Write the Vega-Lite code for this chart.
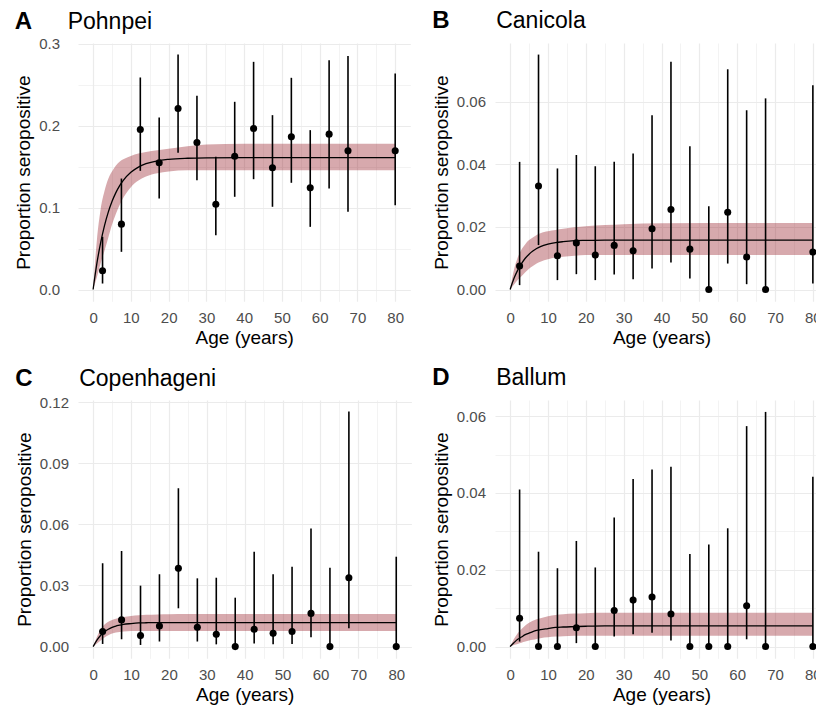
{
  "$schema": "https://vega.github.io/schema/vega-lite/v6.json",
  "background": "white",
  "padding": {"left": 14, "top": 9, "right": 0, "bottom": 0},
  "datasets": {
    "obs": [
      {"s":"A","a":2.5,"p":0.0228,"lo":0.0073,"hi":0.0643},
      {"s":"A","a":7.5,"p":0.0798,"lo":0.046,"hi":0.1355},
      {"s":"A","a":12.5,"p":0.1954,"lo":0.1449,"hi":0.2589},
      {"s":"A","a":17.5,"p":0.1547,"lo":0.1111,"hi":0.21},
      {"s":"A","a":22.5,"p":0.221,"lo":0.1669,"hi":0.287},
      {"s":"A","a":27.5,"p":0.1795,"lo":0.1335,"hi":0.2365},
      {"s":"A","a":32.5,"p":0.1042,"lo":0.0663,"hi":0.162},
      {"s":"A","a":37.5,"p":0.1628,"lo":0.1132,"hi":0.2292},
      {"s":"A","a":42.5,"p":0.1966,"lo":0.1347,"hi":0.278},
      {"s":"A","a":47.5,"p":0.1486,"lo":0.101,"hi":0.2129},
      {"s":"A","a":52.5,"p":0.1864,"lo":0.1303,"hi":0.2585},
      {"s":"A","a":57.5,"p":0.1241,"lo":0.0765,"hi":0.1946},
      {"s":"A","a":62.5,"p":0.1897,"lo":0.1233,"hi":0.28},
      {"s":"A","a":67.5,"p":0.1693,"lo":0.0948,"hi":0.285},
      {"s":"A","a":80,"p":0.1693,"lo":0.103,"hi":0.2638},
      {"s":"B","a":2.5,"p":0.0075,"lo":0.0014,"hi":0.0408},
      {"s":"B","a":7.5,"p":0.0331,"lo":0.0142,"hi":0.0751},
      {"s":"B","a":12.5,"p":0.0108,"lo":0.003,"hi":0.0387},
      {"s":"B","a":17.5,"p":0.0149,"lo":0.0049,"hi":0.043},
      {"s":"B","a":22.5,"p":0.011,"lo":0.003,"hi":0.0394},
      {"s":"B","a":27.5,"p":0.0141,"lo":0.0048,"hi":0.0408},
      {"s":"B","a":32.5,"p":0.0124,"lo":0.0033,"hi":0.0435},
      {"s":"B","a":37.5,"p":0.0194,"lo":0.0067,"hi":0.0557},
      {"s":"B","a":42.5,"p":0.0256,"lo":0.0086,"hi":0.0728},
      {"s":"B","a":47.5,"p":0.0129,"lo":0.0035,"hi":0.0458},
      {"s":"B","a":52.5,"p":0,"lo":0,"hi":0.0266},
      {"s":"B","a":57.5,"p":0.0247,"lo":0.0083,"hi":0.0704},
      {"s":"B","a":62.5,"p":0.0104,"lo":0.0017,"hi":0.0573},
      {"s":"B","a":67.5,"p":0,"lo":0,"hi":0.0611},
      {"s":"B","a":80,"p":0.012,"lo":0.0019,"hi":0.0653},
      {"s":"C","a":2.5,"p":0.0074,"lo":0.0013,"hi":0.0409},
      {"s":"C","a":7.5,"p":0.0131,"lo":0.0036,"hi":0.0469},
      {"s":"C","a":12.5,"p":0.0054,"lo":0.0008,"hi":0.0299},
      {"s":"C","a":17.5,"p":0.0101,"lo":0.0025,"hi":0.0355},
      {"s":"C","a":22.5,"p":0.0384,"lo":0.0188,"hi":0.0777},
      {"s":"C","a":27.5,"p":0.0095,"lo":0.0025,"hi":0.0335},
      {"s":"C","a":32.5,"p":0.006,"lo":0.0011,"hi":0.0338},
      {"s":"C","a":37.5,"p":0,"lo":0,"hi":0.024},
      {"s":"C","a":42.5,"p":0.0085,"lo":0.0015,"hi":0.0466},
      {"s":"C","a":47.5,"p":0.0065,"lo":0.0011,"hi":0.0355},
      {"s":"C","a":52.5,"p":0.0074,"lo":0.0013,"hi":0.0392},
      {"s":"C","a":57.5,"p":0.0163,"lo":0.0046,"hi":0.058},
      {"s":"C","a":62.5,"p":0,"lo":0,"hi":0.0387},
      {"s":"C","a":67.5,"p":0.0338,"lo":0.009,"hi":0.1153},
      {"s":"C","a":80,"p":0,"lo":0,"hi":0.0441},
      {"s":"D","a":2.5,"p":0.0074,"lo":0.0013,"hi":0.0409},
      {"s":"D","a":7.5,"p":0,"lo":0,"hi":0.0247},
      {"s":"D","a":12.5,"p":0,"lo":0,"hi":0.0204},
      {"s":"D","a":17.5,"p":0.0049,"lo":0.0009,"hi":0.0275},
      {"s":"D","a":22.5,"p":0,"lo":0,"hi":0.0206},
      {"s":"D","a":27.5,"p":0.0094,"lo":0.0026,"hi":0.0336},
      {"s":"D","a":32.5,"p":0.0121,"lo":0.0032,"hi":0.0436},
      {"s":"D","a":37.5,"p":0.0129,"lo":0.0036,"hi":0.0461},
      {"s":"D","a":42.5,"p":0.0085,"lo":0.0016,"hi":0.0468},
      {"s":"D","a":47.5,"p":0,"lo":0,"hi":0.0241},
      {"s":"D","a":52.5,"p":0,"lo":0,"hi":0.0266},
      {"s":"D","a":57.5,"p":0,"lo":0,"hi":0.0308},
      {"s":"D","a":62.5,"p":0.0106,"lo":0.0019,"hi":0.0574},
      {"s":"D","a":67.5,"p":0,"lo":0,"hi":0.0611},
      {"s":"D","a":80,"p":0,"lo":0,"hi":0.0442}
    ],
    "fit": [
      {"s":"A","a":0,"e":0,"lo":0,"hi":0},
      {"s":"A","a":1,"e":0.0318,"lo":0.015,"hi":0.06},
      {"s":"A","a":2,"e":0.0573,"lo":0.032,"hi":0.098},
      {"s":"A","a":3,"e":0.0778,"lo":0.047,"hi":0.12},
      {"s":"A","a":4,"e":0.0942,"lo":0.063,"hi":0.135},
      {"s":"A","a":5,"e":0.1074,"lo":0.079,"hi":0.144},
      {"s":"A","a":6,"e":0.118,"lo":0.092,"hi":0.151},
      {"s":"A","a":7,"e":0.1266,"lo":0.103,"hi":0.156},
      {"s":"A","a":8,"e":0.1333,"lo":0.112,"hi":0.159},
      {"s":"A","a":10,"e":0.1431,"lo":0.125,"hi":0.163},
      {"s":"A","a":12,"e":0.1495,"lo":0.133,"hi":0.166},
      {"s":"A","a":14,"e":0.1536,"lo":0.138,"hi":0.168},
      {"s":"A","a":17,"e":0.1572,"lo":0.142,"hi":0.17},
      {"s":"A","a":20,"e":0.159,"lo":0.144,"hi":0.172},
      {"s":"A","a":25,"e":0.1603,"lo":0.1455,"hi":0.175},
      {"s":"A","a":30,"e":0.1608,"lo":0.1455,"hi":0.177},
      {"s":"A","a":40,"e":0.161,"lo":0.1455,"hi":0.178},
      {"s":"A","a":80,"e":0.161,"lo":0.1455,"hi":0.178},
      {"s":"B","a":0,"e":0,"lo":0,"hi":0},
      {"s":"B","a":1,"e":0.0035,"lo":0.0015,"hi":0.0062},
      {"s":"B","a":2,"e":0.0062,"lo":0.003,"hi":0.0102},
      {"s":"B","a":3,"e":0.0083,"lo":0.0042,"hi":0.0128},
      {"s":"B","a":4,"e":0.01,"lo":0.0055,"hi":0.0145},
      {"s":"B","a":5,"e":0.0113,"lo":0.0066,"hi":0.0158},
      {"s":"B","a":6,"e":0.0123,"lo":0.0075,"hi":0.0166},
      {"s":"B","a":7,"e":0.0131,"lo":0.0083,"hi":0.0174},
      {"s":"B","a":8,"e":0.0137,"lo":0.0089,"hi":0.018},
      {"s":"B","a":10,"e":0.0145,"lo":0.0097,"hi":0.0186},
      {"s":"B","a":12,"e":0.015,"lo":0.0102,"hi":0.019},
      {"s":"B","a":14,"e":0.0153,"lo":0.0105,"hi":0.0194},
      {"s":"B","a":17,"e":0.0156,"lo":0.0108,"hi":0.0199},
      {"s":"B","a":20,"e":0.0157,"lo":0.011,"hi":0.0202},
      {"s":"B","a":25,"e":0.0158,"lo":0.011,"hi":0.0206},
      {"s":"B","a":30,"e":0.0158,"lo":0.011,"hi":0.0209},
      {"s":"B","a":40,"e":0.0158,"lo":0.011,"hi":0.0212},
      {"s":"B","a":80,"e":0.0158,"lo":0.011,"hi":0.0213},
      {"s":"C","a":0,"e":0,"lo":0,"hi":0},
      {"s":"C","a":1,"e":0.0032,"lo":0.0015,"hi":0.0048},
      {"s":"C","a":2,"e":0.0056,"lo":0.003,"hi":0.0085},
      {"s":"C","a":3,"e":0.0073,"lo":0.0045,"hi":0.0108},
      {"s":"C","a":4,"e":0.0085,"lo":0.0056,"hi":0.0122},
      {"s":"C","a":5,"e":0.0094,"lo":0.0064,"hi":0.0131},
      {"s":"C","a":6,"e":0.0101,"lo":0.0069,"hi":0.0137},
      {"s":"C","a":7,"e":0.0105,"lo":0.0072,"hi":0.0141},
      {"s":"C","a":8,"e":0.0109,"lo":0.0074,"hi":0.0145},
      {"s":"C","a":10,"e":0.0113,"lo":0.0076,"hi":0.015},
      {"s":"C","a":12,"e":0.0116,"lo":0.0077,"hi":0.0154},
      {"s":"C","a":14,"e":0.0117,"lo":0.0077,"hi":0.0156},
      {"s":"C","a":17,"e":0.0118,"lo":0.0077,"hi":0.0158},
      {"s":"C","a":20,"e":0.0118,"lo":0.0077,"hi":0.0159},
      {"s":"C","a":25,"e":0.0118,"lo":0.0077,"hi":0.016},
      {"s":"C","a":30,"e":0.0118,"lo":0.0077,"hi":0.016},
      {"s":"C","a":40,"e":0.0118,"lo":0.0077,"hi":0.016},
      {"s":"C","a":80,"e":0.0118,"lo":0.0077,"hi":0.016},
      {"s":"D","a":0,"e":0,"lo":0,"hi":0},
      {"s":"D","a":1,"e":0.001,"lo":0.0004,"hi":0.002},
      {"s":"D","a":2,"e":0.0019,"lo":0.0007,"hi":0.0035},
      {"s":"D","a":3,"e":0.0025,"lo":0.001,"hi":0.0046},
      {"s":"D","a":4,"e":0.0031,"lo":0.0013,"hi":0.0055},
      {"s":"D","a":5,"e":0.0035,"lo":0.0016,"hi":0.0062},
      {"s":"D","a":6,"e":0.0039,"lo":0.0018,"hi":0.0067},
      {"s":"D","a":7,"e":0.0042,"lo":0.002,"hi":0.0071},
      {"s":"D","a":8,"e":0.0044,"lo":0.0022,"hi":0.0074},
      {"s":"D","a":10,"e":0.0047,"lo":0.0024,"hi":0.0079},
      {"s":"D","a":12,"e":0.005,"lo":0.0026,"hi":0.0082},
      {"s":"D","a":14,"e":0.0051,"lo":0.0027,"hi":0.0084},
      {"s":"D","a":17,"e":0.0052,"lo":0.0028,"hi":0.0086},
      {"s":"D","a":20,"e":0.0053,"lo":0.0028,"hi":0.0087},
      {"s":"D","a":25,"e":0.0054,"lo":0.0028,"hi":0.0088},
      {"s":"D","a":30,"e":0.0054,"lo":0.0028,"hi":0.0088},
      {"s":"D","a":40,"e":0.0054,"lo":0.0028,"hi":0.0088},
      {"s":"D","a":80,"e":0.0054,"lo":0.0028,"hi":0.0088}
    ]
  },
  "columns": 2,
  "spacing": {"row": 18, "column": 20},
  "concat": [
    {"vconcat": [
    {
      "width": 332.3, "height": 258.3,
      "title": {"text": "A", "subtitle": "\u200b\u00a0\u00a0\u00a0\u00a0\u00a0\u00a0\u00a0\u00a0\u200aPohnpei", "offset": 3.2},
      "encoding": {"x": {"field": "a", "type": "quantitative", "title": "Age (years)", "scale": {"domain": [-4, 84], "nice": false, "zero": false},
        "axis": {"values": [0,5,10,15,20,25,30,35,40,45,50,55,60,65,70,75,80], "labelExpr": "datum.value % 10 === 0 ? datum.label : ''", "gridWidth": {"condition": {"test": "datum.value % 10 === 0", "value": 1.2}, "value": 0.6}}}},
      "layer": [
        {"data": {"name": "fit"}, "transform": [{"filter": "datum.s === 'A'"}],
         "mark": {"type": "area", "color": "#8B0A14", "opacity": 0.35, "interpolate": "monotone"},
         "encoding": {"y": {"field": "lo", "type": "quantitative", "title": "Proportion seropositive", "scale": {"domain": [-0.0144, 0.301], "nice": false, "zero": false},
           "axis": {"values": [0,0.05,0.1,0.15,0.2,0.25,0.3], "format": ".1f", "labelPadding": 18.5, "labelExpr": "round(datum.value*100) % 10 === 0 ? datum.label : ''", "gridWidth": {"condition": {"test": "round(datum.value*100) % 10 === 0", "value": 1.2}, "value": 0.6}}},
           "y2": {"field": "hi"}}},
        {"data": {"name": "fit"}, "transform": [{"filter": "datum.s === 'A'"}],
         "mark": {"type": "line", "color": "black", "strokeWidth": 1.3, "interpolate": "monotone"},
         "encoding": {"y": {"field": "e", "type": "quantitative", "title": "Proportion seropositive", "scale": {"domain": [-0.0144, 0.301], "nice": false, "zero": false}}}},
        {"data": {"name": "obs"}, "transform": [{"filter": "datum.s === 'A'"}],
         "mark": {"type": "rule", "color": "black", "strokeWidth": 1.6},
         "encoding": {"y": {"field": "lo", "type": "quantitative", "title": "Proportion seropositive", "scale": {"domain": [-0.0144, 0.301], "nice": false, "zero": false}}, "y2": {"field": "hi"}}},
        {"data": {"name": "obs"}, "transform": [{"filter": "datum.s === 'A'"}],
         "mark": {"type": "circle", "color": "black", "opacity": 1, "size": 50},
         "encoding": {"y": {"field": "p", "type": "quantitative", "title": "Proportion seropositive", "scale": {"domain": [-0.0144, 0.301], "nice": false, "zero": false}}}}
      ]
    }]},
    {"vconcat": [
    {
      "width": 333, "height": 258.3,
      "title": {"text": "B", "subtitle": "\u200b\u00a0\u00a0\u00a0\u00a0\u00a0\u00a0\u00a0\u00a0\u00a0\u00a0Canicola", "offset": 9.8},
      "encoding": {"x": {"field": "a", "type": "quantitative", "title": "Age (years)", "scale": {"domain": [-4, 84], "nice": false, "zero": false},
        "axis": {"values": [0,5,10,15,20,25,30,35,40,45,50,55,60,65,70,75,80], "labelExpr": "datum.value % 10 === 0 ? datum.label : ''", "gridWidth": {"condition": {"test": "datum.value % 10 === 0", "value": 1.2}, "value": 0.6}}}},
      "layer": [
        {"data": {"name": "fit"}, "transform": [{"filter": "datum.s === 'B'"}],
         "mark": {"type": "area", "color": "#8B0A14", "opacity": 0.35, "interpolate": "monotone"},
         "encoding": {"y": {"field": "lo", "type": "quantitative", "title": "Proportion seropositive", "scale": {"domain": [-0.00377, 0.0788], "nice": false, "zero": false},
           "axis": {"values": [0,0.01,0.02,0.03,0.04,0.05,0.06,0.07], "format": ".2f", "labelExpr": "round(datum.value*100) % 2 === 0 ? datum.label : ''", "gridWidth": {"condition": {"test": "round(datum.value*100) % 2 === 0", "value": 1.2}, "value": 0.6}}},
           "y2": {"field": "hi"}}},
        {"data": {"name": "fit"}, "transform": [{"filter": "datum.s === 'B'"}],
         "mark": {"type": "line", "color": "black", "strokeWidth": 1.3, "interpolate": "monotone"},
         "encoding": {"y": {"field": "e", "type": "quantitative", "title": "Proportion seropositive", "scale": {"domain": [-0.00377, 0.0788], "nice": false, "zero": false}}}},
        {"data": {"name": "obs"}, "transform": [{"filter": "datum.s === 'B'"}],
         "mark": {"type": "rule", "color": "black", "strokeWidth": 1.6},
         "encoding": {"y": {"field": "lo", "type": "quantitative", "title": "Proportion seropositive", "scale": {"domain": [-0.00377, 0.0788], "nice": false, "zero": false}}, "y2": {"field": "hi"}}},
        {"data": {"name": "obs"}, "transform": [{"filter": "datum.s === 'B'"}],
         "mark": {"type": "circle", "color": "black", "opacity": 1, "size": 50},
         "encoding": {"y": {"field": "p", "type": "quantitative", "title": "Proportion seropositive", "scale": {"domain": [-0.00377, 0.0788], "nice": false, "zero": false}}}}
      ]
    }]},
    {"vconcat": [
    {
      "width": 333.4, "height": 258.3,
      "title": {"text": "C", "subtitle": "\u200b\u00a0\u00a0\u00a0\u00a0\u00a0\u00a0\u00a0\u00a0\u00a0\u00a0Copenhageni", "offset": 4.2},
      "encoding": {"x": {"field": "a", "type": "quantitative", "title": "Age (years)", "scale": {"domain": [-4, 84], "nice": false, "zero": false},
        "axis": {"values": [0,5,10,15,20,25,30,35,40,45,50,55,60,65,70,75,80], "labelExpr": "datum.value % 10 === 0 ? datum.label : ''", "gridWidth": {"condition": {"test": "datum.value % 10 === 0", "value": 1.2}, "value": 0.6}}}},
      "layer": [
        {"data": {"name": "fit"}, "transform": [{"filter": "datum.s === 'C'"}],
         "mark": {"type": "area", "color": "#8B0A14", "opacity": 0.35, "interpolate": "monotone"},
         "encoding": {"y": {"field": "lo", "type": "quantitative", "title": "Proportion seropositive", "scale": {"domain": [-0.00574, 0.121], "nice": false, "zero": false},
           "axis": {"values": [0,0.015,0.03,0.045,0.06,0.075,0.09,0.105,0.12], "format": ".2f", "labelExpr": "round(datum.value*1000) % 30 === 0 ? datum.label : ''", "gridWidth": {"condition": {"test": "round(datum.value*1000) % 30 === 0", "value": 1.2}, "value": 0.6}}},
           "y2": {"field": "hi"}}},
        {"data": {"name": "fit"}, "transform": [{"filter": "datum.s === 'C'"}],
         "mark": {"type": "line", "color": "black", "strokeWidth": 1.3, "interpolate": "monotone"},
         "encoding": {"y": {"field": "e", "type": "quantitative", "title": "Proportion seropositive", "scale": {"domain": [-0.00574, 0.121], "nice": false, "zero": false}}}},
        {"data": {"name": "obs"}, "transform": [{"filter": "datum.s === 'C'"}],
         "mark": {"type": "rule", "color": "black", "strokeWidth": 1.6},
         "encoding": {"y": {"field": "lo", "type": "quantitative", "title": "Proportion seropositive", "scale": {"domain": [-0.00574, 0.121], "nice": false, "zero": false}}, "y2": {"field": "hi"}}},
        {"data": {"name": "obs"}, "transform": [{"filter": "datum.s === 'C'"}],
         "mark": {"type": "circle", "color": "black", "opacity": 1, "size": 50},
         "encoding": {"y": {"field": "p", "type": "quantitative", "title": "Proportion seropositive", "scale": {"domain": [-0.00574, 0.121], "nice": false, "zero": false}}}}
      ]
    }]},
    {"vconcat": [
    {
      "width": 333, "height": 258.3,
      "title": {"text": "D", "subtitle": "\u200b\u00a0\u00a0\u00a0\u00a0\u00a0\u00a0\u00a0\u00a0\u00a0\u00a0Ballum", "offset": 9.6},
      "encoding": {"x": {"field": "a", "type": "quantitative", "title": "Age (years)", "scale": {"domain": [-4, 84], "nice": false, "zero": false},
        "axis": {"values": [0,5,10,15,20,25,30,35,40,45,50,55,60,65,70,75,80], "labelExpr": "datum.value % 10 === 0 ? datum.label : ''", "gridWidth": {"condition": {"test": "datum.value % 10 === 0", "value": 1.2}, "value": 0.6}}}},
      "layer": [
        {"data": {"name": "fit"}, "transform": [{"filter": "datum.s === 'D'"}],
         "mark": {"type": "area", "color": "#8B0A14", "opacity": 0.35, "interpolate": "monotone"},
         "encoding": {"y": {"field": "lo", "type": "quantitative", "title": "Proportion seropositive", "scale": {"domain": [-0.00305, 0.0642], "nice": false, "zero": false},
           "axis": {"values": [0,0.01,0.02,0.03,0.04,0.05,0.06], "format": ".2f", "labelExpr": "round(datum.value*100) % 2 === 0 ? datum.label : ''", "gridWidth": {"condition": {"test": "round(datum.value*100) % 2 === 0", "value": 1.2}, "value": 0.6}}},
           "y2": {"field": "hi"}}},
        {"data": {"name": "fit"}, "transform": [{"filter": "datum.s === 'D'"}],
         "mark": {"type": "line", "color": "black", "strokeWidth": 1.3, "interpolate": "monotone"},
         "encoding": {"y": {"field": "e", "type": "quantitative", "title": "Proportion seropositive", "scale": {"domain": [-0.00305, 0.0642], "nice": false, "zero": false}}}},
        {"data": {"name": "obs"}, "transform": [{"filter": "datum.s === 'D'"}],
         "mark": {"type": "rule", "color": "black", "strokeWidth": 1.6},
         "encoding": {"y": {"field": "lo", "type": "quantitative", "title": "Proportion seropositive", "scale": {"domain": [-0.00305, 0.0642], "nice": false, "zero": false}}, "y2": {"field": "hi"}}},
        {"data": {"name": "obs"}, "transform": [{"filter": "datum.s === 'D'"}],
         "mark": {"type": "circle", "color": "black", "opacity": 1, "size": 50},
         "encoding": {"y": {"field": "p", "type": "quantitative", "title": "Proportion seropositive", "scale": {"domain": [-0.00305, 0.0642], "nice": false, "zero": false}}}}
      ]
    }]}
  ],
  "config": {
    "font": "Liberation Sans",
    "view": {"stroke": null},
    "axis": {
      "domain": false, "ticks": false, "labelColor": "#4D4D4D", "labelFontSize": 15, "labelPadding": 9.5,
      "labelFont": "Liberation Sans", "titleFont": "Liberation Sans",
      "titleFontSize": 19, "titleFontWeight": "normal", "titleColor": "#000000",
      "gridColor": "#EBEBEB", "labelOverlap": false, "labelFlush": false, "minExtent": 0
    },
    "axisX": {"titlePadding": 3},
    "axisY": {"titlePadding": 5},
    "title": {
      "anchor": "start", "frame": "bounds", "font": "Liberation Sans", "fontSize": 24, "fontWeight": "bold", "color": "#000000",
      "subtitleFont": "Liberation Sans", "subtitleFontSize": 23, "subtitleFontWeight": "normal", "subtitleColor": "#000000", "subtitlePadding": -23
    }
  }
}
